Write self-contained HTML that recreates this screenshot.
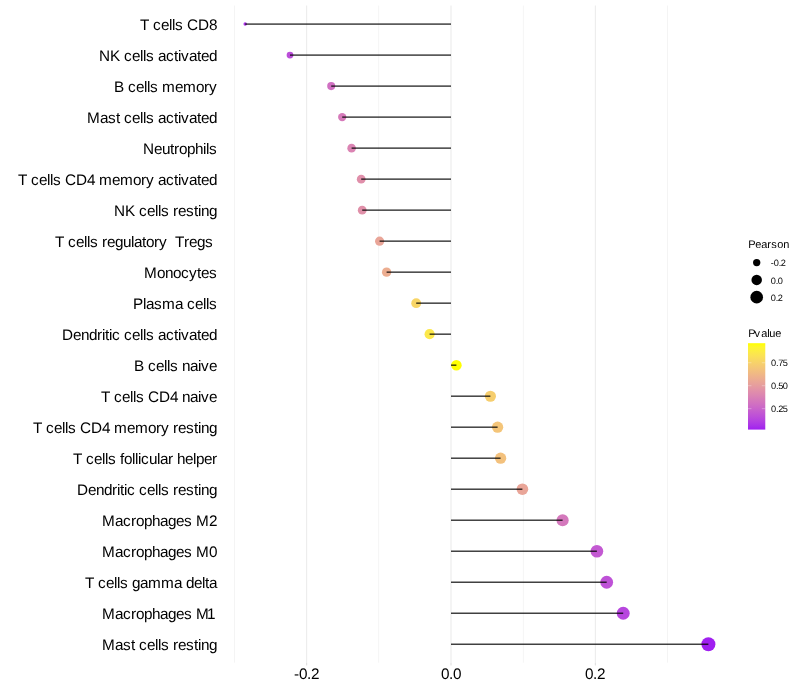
<!DOCTYPE html>
<html lang="en"><head><meta charset="utf-8"><title>Lollipop</title>
<style>html,body{margin:0;padding:0;background:#fff}svg{display:block}text{font-family:"Liberation Sans",sans-serif;fill:#000;white-space:pre}.yl{font-size:15.3px;text-anchor:start;text-rendering:geometricPrecision}.xl{font-size:15.3px;text-rendering:geometricPrecision}.lt{font-size:11px;text-rendering:geometricPrecision}.ll{font-size:9.2px;text-rendering:geometricPrecision}</style></head><body>
<svg width="800" height="700" viewBox="0 0 800 700">
<rect width="800" height="700" fill="#fff"/>
<g fill="#ebebeb">
<rect x="234.210" y="5.50" width="0.53" height="657.20"/>
<rect x="378.560" y="5.50" width="0.53" height="657.20"/>
<rect x="522.910" y="5.50" width="0.53" height="657.20"/>
<rect x="667.260" y="5.50" width="0.53" height="657.20"/>
<rect x="306.115" y="5.50" width="1.07" height="657.20"/>
<rect x="450.465" y="5.50" width="1.07" height="657.20"/>
<rect x="594.815" y="5.50" width="1.07" height="657.20"/>
</g>
<g fill="#dedede">
<rect x="306.115" y="662.70" width="1.07" height="2.75"/>
<rect x="450.465" y="662.70" width="1.07" height="2.75"/>
<rect x="594.815" y="662.70" width="1.07" height="2.75"/>
</g>
<g>
<circle cx="245.2" cy="24.10" r="1.75" fill="#ab33e8"/>
<circle cx="290.0" cy="55.11" r="3.38" fill="#bb4ed9"/>
<circle cx="331.2" cy="86.12" r="4.01" fill="#d070c2"/>
<circle cx="342.2" cy="117.12" r="4.15" fill="#d67aba"/>
<circle cx="351.6" cy="148.13" r="4.27" fill="#db84b3"/>
<circle cx="361.2" cy="179.14" r="4.38" fill="#e08faa"/>
<circle cx="362.2" cy="210.15" r="4.39" fill="#e090a9"/>
<circle cx="379.6" cy="241.16" r="4.58" fill="#e9a598"/>
<circle cx="386.6" cy="272.16" r="4.65" fill="#ecad90"/>
<circle cx="416.2" cy="303.17" r="4.94" fill="#f8d566"/>
<circle cx="429.6" cy="334.18" r="5.06" fill="#fce84b"/>
<circle cx="456.4" cy="365.19" r="5.30" fill="#ffff00"/>
<circle cx="490.4" cy="396.20" r="5.57" fill="#f6ce6e"/>
<circle cx="497.6" cy="427.20" r="5.63" fill="#f4c579"/>
<circle cx="500.6" cy="458.21" r="5.65" fill="#f3c17d"/>
<circle cx="522.4" cy="489.22" r="5.81" fill="#e9a598"/>
<circle cx="562.6" cy="520.23" r="6.10" fill="#d478bc"/>
<circle cx="596.9" cy="551.24" r="6.32" fill="#c359d2"/>
<circle cx="606.7" cy="582.24" r="6.39" fill="#be51d7"/>
<circle cx="623.2" cy="613.25" r="6.49" fill="#b746de"/>
<circle cx="708.4" cy="644.26" r="7.00" fill="#a020f0"/>
</g>
<g fill="rgba(0,0,0,0.75)">
<rect x="245.2" y="23.350" width="205.8" height="1.5"/>
<rect x="290.0" y="54.358" width="161.0" height="1.5"/>
<rect x="331.2" y="85.366" width="119.8" height="1.5"/>
<rect x="342.2" y="116.374" width="108.8" height="1.5"/>
<rect x="351.6" y="147.382" width="99.4" height="1.5"/>
<rect x="361.2" y="178.390" width="89.8" height="1.5"/>
<rect x="362.2" y="209.398" width="88.8" height="1.5"/>
<rect x="379.6" y="240.406" width="71.4" height="1.5"/>
<rect x="386.6" y="271.414" width="64.4" height="1.5"/>
<rect x="416.2" y="302.422" width="34.8" height="1.5"/>
<rect x="429.6" y="333.430" width="21.4" height="1.5"/>
<rect x="451.0" y="364.438" width="5.4" height="1.5"/>
<rect x="451.0" y="395.446" width="39.4" height="1.5"/>
<rect x="451.0" y="426.454" width="46.6" height="1.5"/>
<rect x="451.0" y="457.462" width="49.6" height="1.5"/>
<rect x="451.0" y="488.470" width="71.4" height="1.5"/>
<rect x="451.0" y="519.478" width="111.6" height="1.5"/>
<rect x="451.0" y="550.486" width="145.9" height="1.5"/>
<rect x="451.0" y="581.494" width="155.7" height="1.5"/>
<rect x="451.0" y="612.502" width="172.2" height="1.5"/>
<rect x="451.0" y="643.510" width="257.4" height="1.5"/>
</g>
<g class="yl">
<text x="140 149 153 161 169 172 175 183 187 198 209" y="30.00" xml:space="preserve">T cells CD8</text>
<text x="99 110 120 124 132 140 143 146 154 158 166 174 178 181 189 197 201 209" y="61.00" xml:space="preserve">NK cells activated</text>
<text x="114 124 128 136 144 147 150 158 162 175 183 196 204 209" y="92.00" xml:space="preserve">B cells memory</text>
<text x="87 100 108 116 120 124 132 140 143 146 154 158 166 174 178 181 189 197 201 209" y="123.00" xml:space="preserve">Mast cells activated</text>
<text x="143 154 162 170 174 179 187 195 203 206 209" y="154.00" xml:space="preserve">Neutrophils</text>
<text x="18 27 31 39 47 50 53 61 65 76 87 95 99 112 120 133 141 146 154 158 166 174 178 181 189 197 201 209" y="185.00" xml:space="preserve">T cells CD4 memory activated</text>
<text x="114 125 135 139 147 155 158 161 169 173 178 186 194 198 201 209" y="216.00" xml:space="preserve">NK cells resting</text>
<text x="55 64 68 76 84 87 90 98 102 107 115 123 131 134 142 146 154 159 167 171 175 184 189 197 205 213" y="247.00" xml:space="preserve">T cells regulatory  Tregs </text>
<text x="144 157 165 173 181 189 197 201 209" y="278.00" xml:space="preserve">Monocytes</text>
<text x="133 143 146 154 162 175 183 187 195 203 206 209" y="309.00" xml:space="preserve">Plasma cells</text>
<text x="62 73 81 89 97 102 105 109 112 120 124 132 140 143 146 154 158 166 174 178 181 189 197 201 209" y="340.00" xml:space="preserve">Dendritic cells activated</text>
<text x="134 144 148 156 164 167 170 178 182 190 198 201 209" y="371.00" xml:space="preserve">B cells naive</text>
<text x="101 110 114 122 130 133 136 144 148 159 170 178 182 190 198 201 209" y="402.00" xml:space="preserve">T cells CD4 naive</text>
<text x="33 42 46 54 62 65 68 76 80 91 102 110 114 127 135 148 156 161 169 173 178 186 194 198 201 209" y="433.00" xml:space="preserve">T cells CD4 memory resting</text>
<text x="73 82 86 94 102 105 108 116 120 124 132 135 138 141 149 157 160 168 173 177 185 193 196 204 212" y="464.00" xml:space="preserve">T cells follicular helper</text>
<text x="77 88 96 104 112 117 120 124 127 135 139 147 155 158 161 169 173 178 186 194 198 201 209" y="495.00" xml:space="preserve">Dendritic cells resting</text>
<text x="102 115 123 131 136 144 152 160 168 176 184 192 196 209" y="526.00" xml:space="preserve">Macrophages M2</text>
<text x="102 115 123 131 136 144 152 160 168 176 184 192 196 209" y="557.00" xml:space="preserve">Macrophages M0</text>
<text x="85 94 98 106 114 117 120 128 132 140 148 161 174 182 186 194 202 205 209" y="588.00" xml:space="preserve">T cells gamma delta</text>
<text x="102 115 123 131 136 144 152 160 168 176 184 192 196 207" y="619.00" xml:space="preserve">Macrophages M1</text>
<text x="102 115 123 131 135 139 147 155 158 161 169 173 178 186 194 198 201 209" y="650.00" xml:space="preserve">Mast cells resting</text>
</g>
<text class="xl" x="294 299 307 311" y="679.00" xml:space="preserve">-0.2</text>
<text class="xl" x="441 449 453" y="679.00" xml:space="preserve">0.0</text>
<text class="xl" x="585 593 597" y="679.00" xml:space="preserve">0.2</text>
<text class="lt" x="748.3 755.3 761.3 767.3 771.3 777.3 783.3" y="247.6">Pearson</text>
<circle cx="756.7" cy="262.60" r="3.66" fill="#000"/>
<text class="ll" x="770.85 773.85 778.85 780.85" y="265.90">-0.2</text>
<circle cx="756.7" cy="279.88" r="5.25" fill="#000"/>
<text class="ll" x="770.85 775.85 777.85" y="283.90">0.0</text>
<circle cx="756.7" cy="297.16" r="6.31" fill="#000"/>
<text class="ll" x="770.85 775.85 777.85" y="300.90">0.2</text>
<text class="lt" x="748.3 754.6 761.3 767.3 769.3 775.3" y="337.0">Pvalue</text>
<defs><linearGradient id="g" x1="0" y1="0" x2="0" y2="1"><stop offset="0.000" stop-color="#ffff00"/><stop offset="0.050" stop-color="#fef530"/><stop offset="0.100" stop-color="#fceb46"/><stop offset="0.150" stop-color="#fbe156"/><stop offset="0.200" stop-color="#f8d763"/><stop offset="0.250" stop-color="#f6cd6f"/><stop offset="0.300" stop-color="#f3c37a"/><stop offset="0.350" stop-color="#f0b984"/><stop offset="0.400" stop-color="#edaf8e"/><stop offset="0.450" stop-color="#e9a597"/><stop offset="0.500" stop-color="#e59ba0"/><stop offset="0.550" stop-color="#e190a9"/><stop offset="0.600" stop-color="#dc86b1"/><stop offset="0.650" stop-color="#d67bb9"/><stop offset="0.700" stop-color="#d171c1"/><stop offset="0.750" stop-color="#ca66c9"/><stop offset="0.800" stop-color="#c35ad1"/><stop offset="0.850" stop-color="#bc4ed9"/><stop offset="0.900" stop-color="#b441e1"/><stop offset="0.950" stop-color="#aa33e8"/><stop offset="1.000" stop-color="#a020f0"/></linearGradient></defs>
<rect x="748" y="343.2" width="17.28" height="86.4" fill="url(#g)"/>
<path d="M748 362.76h3.46M765.28 362.76h-3.46" stroke="#fff" stroke-opacity="0.6" stroke-width="0.53" fill="none"/>
<text class="ll" x="771.1 776 778.2 782.8" y="366.00">0.75</text>
<path d="M748 385.71h3.46M765.28 385.71h-3.46" stroke="#fff" stroke-opacity="0.6" stroke-width="0.53" fill="none"/>
<text class="ll" x="771.1 776 778.2 782.8" y="389.00">0.50</text>
<path d="M748 408.67h3.46M765.28 408.67h-3.46" stroke="#fff" stroke-opacity="0.6" stroke-width="0.53" fill="none"/>
<text class="ll" x="771.1 776 778.2 782.8" y="412.00">0.25</text>
</svg></body></html>
